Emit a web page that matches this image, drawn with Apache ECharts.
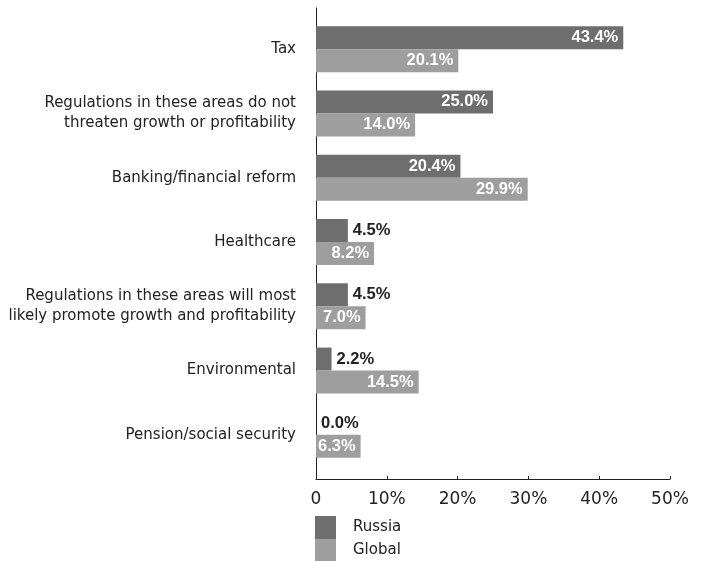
<!DOCTYPE html>
<html>
<head>
<meta charset="utf-8">
<style>
  html, body { margin: 0; padding: 0; background: #fff; }
  #chart { width: 708px; height: 561px; }
</style>
<script src="https://cdn.jsdelivr.net/npm/echarts@6/dist/echarts.min.js"></script>
</head>
<body>
<div id="chart"></div>
<script>
// Regulatory areas (top to bottom)
const categories = [
  'Tax',
  'Regulations in these areas do not\nthreaten growth or profitability',
  'Banking/financial reform',
  'Healthcare',
  'Regulations in these areas will most\nlikely promote growth and profitability',
  'Environmental',
  'Pension/social security'
];
// Share of respondents, %
const russia = [43.4, 25.0, 20.4, 4.5, 4.5, 2.2, 0.0];
const global = [20.1, 14.0, 29.9, 8.2, 7.0, 14.5, 6.3];
const xTicks = [0, 10, 20, 30, 40, 50];

const FONT = '"DejaVu Sans", sans-serif';
const VALUE_FONT = '"Liberation Sans", Arial, sans-serif';
const TEXT = '#222222';
const RUSSIA_COLOR = '#6e6e6e';
const GLOBAL_COLOR = '#9e9e9e';

const fmt = v => v.toFixed(1) + '%';

// Long bars carry their label inside in white; short ones get a dark label beside the bar
function labelledItems(values, alwaysInside) {
  return values.map(v => {
    const inside = alwaysInside || v >= 10;
    return {
      value: v,
      label: {
        show: true,
        position: inside ? 'insideRight' : 'right',
        distance: 5,
        color: inside ? '#ffffff' : TEXT,
        fontWeight: 'bold',
        fontSize: 16.5,
        fontFamily: VALUE_FONT,
        formatter: p => fmt(p.value)
      }
    };
  });
}

function legendFor(name, top) {
  return {
    orient: 'vertical',
    left: 315,
    top: top,
    padding: 0,
    itemGap: 0,
    itemWidth: 21,
    itemHeight: 23,
    icon: 'rect',
    textStyle: { fontSize: 15, color: TEXT, fontFamily: FONT, padding: [0, 0, 0, 12] },
    data: [name]
  };
}

const chart = echarts.init(document.getElementById('chart'), null, { renderer: 'canvas' });

chart.setOption({
  animation: false,
  backgroundColor: '#ffffff',
  textStyle: { fontFamily: FONT },
  legend: [legendFor('Russia', 516), legendFor('Global', 539)],
  grid: [
    // frame grid: axis lines, ticks and percentage labels
    { left: 316, right: 38, top: 8, height: 471 },
    // bar grid
    { left: 316, right: 38, top: 17, height: 450 }
  ],
  xAxis: [
    {
      gridIndex: 0,
      type: 'value',
      min: xTicks[0],
      max: xTicks[xTicks.length - 1],
      interval: xTicks[1] - xTicks[0],
      axisLine: { show: true, lineStyle: { color: TEXT, width: 1 } },
      axisTick: { show: true, inside: true, length: 3, lineStyle: { color: TEXT } },
      splitLine: { show: false },
      axisLabel: {
        margin: 12,
        fontSize: 17,
        color: TEXT,
        fontFamily: FONT,
        formatter: v => (v === 0 ? '0' : v + '%')
      }
    },
    {
      gridIndex: 1,
      type: 'value',
      min: xTicks[0],
      max: xTicks[xTicks.length - 1],
      show: false
    }
  ],
  yAxis: [
    {
      gridIndex: 0,
      type: 'value',
      min: 0,
      max: 1,
      axisLine: { show: true, lineStyle: { color: TEXT, width: 1 } },
      axisTick: { show: false },
      axisLabel: { show: false },
      splitLine: { show: false }
    },
    {
      gridIndex: 1,
      type: 'category',
      inverse: true,
      data: categories,
      axisLine: { show: false },
      axisTick: { show: false },
      axisLabel: {
        margin: 20,
        fontSize: 15,
        lineHeight: 20,
        color: TEXT,
        fontFamily: FONT,
        align: 'right'
      }
    }
  ],
  series: [
    {
      name: 'Russia',
      type: 'bar',
      xAxisIndex: 1,
      yAxisIndex: 1,
      barWidth: 23,
      barGap: '0%',
      itemStyle: { color: RUSSIA_COLOR },
      data: labelledItems(russia, false)
    },
    {
      name: 'Global',
      type: 'bar',
      xAxisIndex: 1,
      yAxisIndex: 1,
      barWidth: 23,
      barGap: '0%',
      itemStyle: { color: GLOBAL_COLOR },
      data: labelledItems(global, true)
    }
  ]
});
</script>
</body>
</html>
